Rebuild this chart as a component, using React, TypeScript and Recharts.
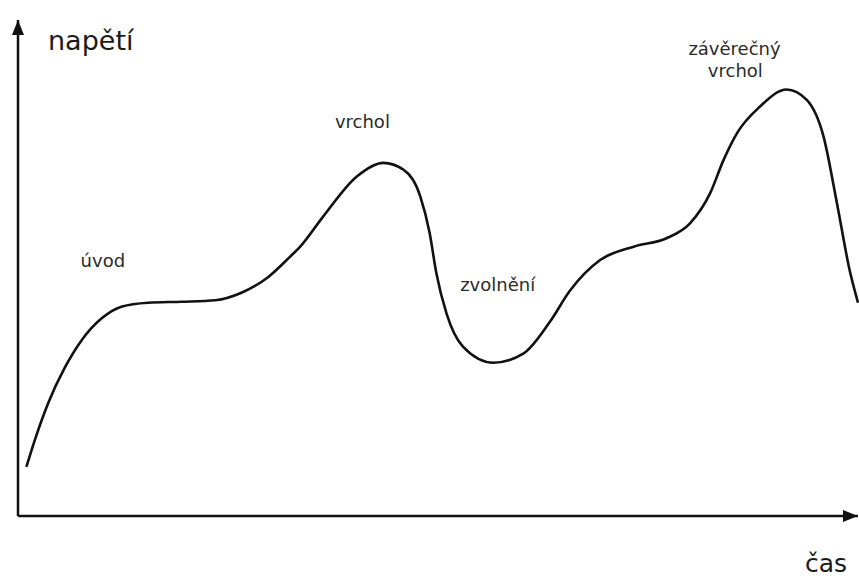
import React from "react";
import { LineChart, Line, XAxis, YAxis, ReferenceDot } from "recharts";

// time (arbitrary units, 0–100) and tension (0–100)
const time = [1.0, 2.0, 3.6, 5.6, 7.6, 10.0, 12.3, 15.5, 19.5, 23.5, 26.6, 29.8, 32.4, 33.6, 36.3, 40.3, 43.5, 45.9, 47.9, 49.0, 49.8, 51.0, 53.0, 56.6, 60.2, 63.3, 65.7, 69.3, 73.3, 77.2, 80.0, 82.4, 84.0, 85.6, 88.3, 91.5, 93.9, 95.9, 97.5, 99.0, 100];
const tension = [9.9, 15.3, 22.8, 30.0, 35.5, 39.9, 42.2, 43.0, 43.2, 43.5, 45.0, 48.2, 52.3, 54.3, 60.3, 68.4, 71.2, 69.8, 64.4, 57.1, 49.0, 40.9, 34.1, 30.9, 32.8, 39.1, 45.4, 51.6, 54.3, 56.0, 59.0, 65.1, 71.8, 77.2, 82.5, 86.0, 83.9, 76.5, 63.0, 49.6, 43.0];

// phase annotations (label, time, tension)
const phaseLabels = ["úvod", "vrchol", "zvolnění", "závěrečný", "vrchol"];
const phaseTime = [10.1, 41.0, 57.1, 85.3, 85.4];
const phaseTension = [51.5, 79.5, 46.7, 94.2, 89.8];

const yTitle = "napětí";
const xTitle = "čas";

const data = time.map((t, i) => ({ t, v: tension[i] }));

const FONT = "'DejaVu Sans', Verdana, sans-serif";

export default function App() {
  return (
    <div style={{ position: "absolute", left: 0, top: 0, background: "#fff" }}>
      <LineChart
        width={859}
        height={580}
        data={data}
        margin={{ top: 20, right: 1, left: 17, bottom: 63 }}
      >
        <defs>
          <marker
            id="arrowHead"
            markerUnits="userSpaceOnUse"
            markerWidth={16}
            markerHeight={14}
            refX={15}
            refY={6}
            orient="auto-start-reverse"
          >
            <path d="M0,0 L15,6 L0,12 Z" fill="#111" />
          </marker>
        </defs>
        <XAxis
          dataKey="t"
          type="number"
          domain={[0, 100]}
          tick={false}
          tickLine={false}
          height={1}
          axisLine={{ stroke: "#111", strokeWidth: 2.5, markerEnd: "url(#arrowHead)" }}
        />
        <YAxis
          type="number"
          domain={[0, 100]}
          tick={false}
          tickLine={false}
          width={1}
          axisLine={{ stroke: "#111", strokeWidth: 2.5, markerStart: "url(#arrowHead)" }}
        />
        <Line
          type="monotone"
          dataKey="v"
          stroke="#111"
          strokeWidth={2.6}
          dot={false}
          activeDot={false}
          isAnimationActive={false}
        />
        {phaseLabels.map((lab, i) => (
          <ReferenceDot
            key={i}
            x={phaseTime[i]}
            y={phaseTension[i]}
            r={0}
            fill="none"
            stroke="none"
            label={{
              value: lab,
              position: "center",
              fill: "#2a2a2a",
              fontSize: 18,
              fontFamily: FONT,
            }}
          />
        ))}
        <text x={48} y={50} fontSize={27} fontFamily={FONT} fill="#1a1a1a">
          {yTitle}
        </text>
        <text x={805} y={572} fontSize={25} fontFamily={FONT} fill="#1a1a1a">
          {xTitle}
        </text>
      </LineChart>
    </div>
  );
}
